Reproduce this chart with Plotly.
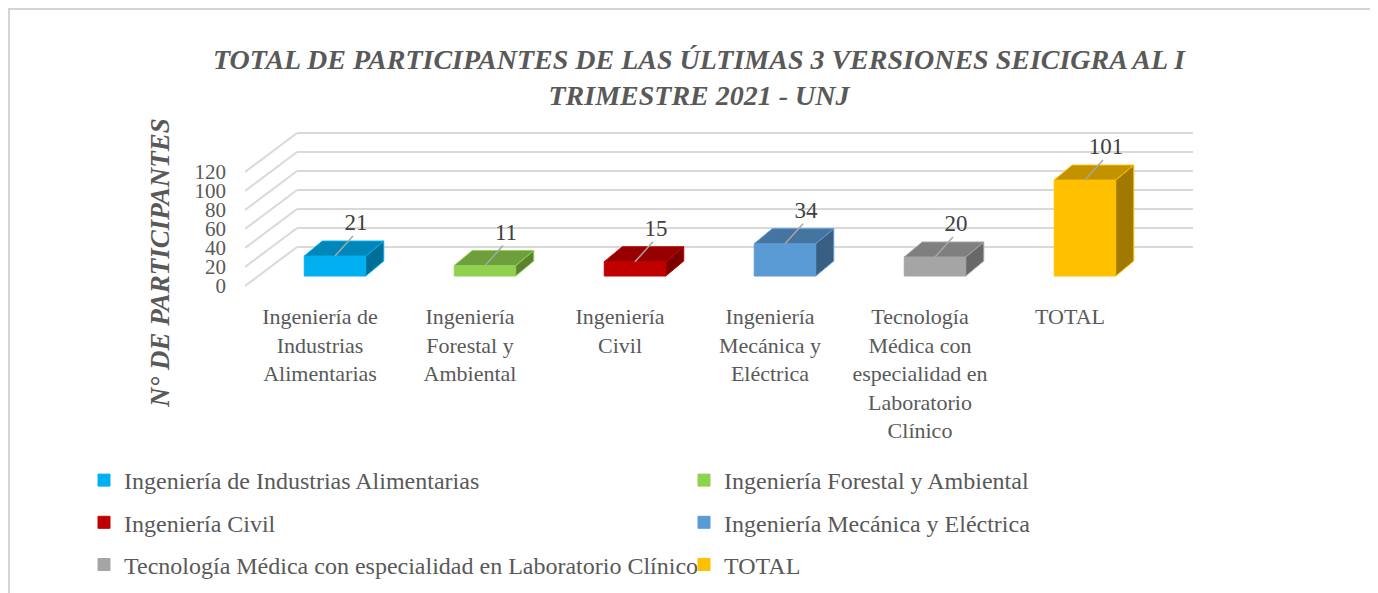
import plotly.graph_objects as go

# ---------------- data ----------------
categories = [
    "Ingeniería de Industrias Alimentarias",
    "Ingeniería Forestal y Ambiental",
    "Ingeniería Civil",
    "Ingeniería Mecánica y Eléctrica",
    "Tecnología Médica con especialidad en Laboratorio Clínico",
    "TOTAL",
]
axis_labels = [
    "Ingeniería de<br>Industrias<br>Alimentarias",
    "Ingeniería<br>Forestal y<br>Ambiental",
    "Ingeniería<br>Civil",
    "Ingeniería<br>Mecánica y<br>Eléctrica",
    "Tecnología<br>Médica con<br>especialidad en<br>Laboratorio<br>Clínico",
    "TOTAL",
]
values = [21, 11, 15, 34, 20, 101]
y_ticks = [0, 20, 40, 60, 80, 100, 120]

front_colors = ["#00B0F0", "#92D050", "#C00000", "#5B9BD5", "#A5A5A5", "#FFC000"]
top_colors = ["#0086B8", "#6F9E3C", "#960000", "#44749F", "#7F7F7F", "#C29200"]
side_colors = ["#006E97", "#5B8231", "#7A0000", "#385F82", "#686868", "#A17900"]

title_text = "TOTAL DE PARTICIPANTES DE LAS ÚLTIMAS 3 VERSIONES SEICIGRA AL I<br>TRIMESTRE 2021 - UNJ"
ytitle_text = "N° DE PARTICIPANTES"

# ---------------- geometry / style constants (screen pixels) ----------------
W, H = 1378, 593
PAGE_OFF = 8                # default page body margin
PL, PR = 245, 1220          # plot area left/right (screen px)
PT, PB = 100, 290           # plot area top/bottom (screen px)
X_RANGE = [-0.5, 6.0]
PX_PER_UNIT = 0.95          # pixels per data unit (vertical)
ZERO_PX = 276               # screen px of value 0 on bar front plane
Y_RANGE = [(ZERO_PX - PB) / PX_PER_UNIT, (ZERO_PX - PT) / PX_PER_UNIT]
BACK_OFF = (ZERO_PX - 247) / PX_PER_UNIT
FRONT_OFF = (ZERO_PX - 286) / PX_PER_UNIT
BACK_X0, BACK_X1, FRONT_X = -0.153, 5.82, -0.5
BAR_SHIFT, BAR_W = 0.1, 0.41
DEPTH_X, DEPTH_Y = 0.12, 15 / PX_PER_UNIT

FONT = "Liberation Serif"
GRID = "#D9D9D9"


def px_to_paper_x(p):
    return (p - PL) / (PR - PL)


def px_to_paper_y(p):
    return (PB - p) / (PB - PT)


fig = go.Figure()

# gridlines: back wall + floor diagonals (below all traces)
for t in y_ticks:
    fig.add_shape(type="line", xref="x", yref="y", layer="below",
                  x0=FRONT_X, y0=t + FRONT_OFF, x1=BACK_X0, y1=t + BACK_OFF,
                  line=dict(color=GRID, width=2))
    fig.add_shape(type="line", xref="x", yref="y", layer="below",
                  x0=BACK_X0, y0=t + BACK_OFF, x1=BACK_X1, y1=t + BACK_OFF,
                  line=dict(color=GRID, width=2))

# bars with pseudo-3D faces
for i, (cat, v) in enumerate(zip(categories, values)):
    c = i + BAR_SHIFT
    w = BAR_W / 2
    leg = "legend" if i % 2 == 0 else "legend2"
    # side face
    fig.add_trace(go.Scatter(
        x=[c + w, c + w, c + w + DEPTH_X, c + w + DEPTH_X, c + w],
        y=[0, v, v + DEPTH_Y, DEPTH_Y, 0],
        fill="toself", fillcolor=side_colors[i], mode="lines",
        line=dict(color=front_colors[i], width=1),
        showlegend=False, hoverinfo="skip", legendgroup=cat))
    # top face
    fig.add_trace(go.Scatter(
        x=[c - w, c + w, c + w + DEPTH_X, c - w + DEPTH_X, c - w],
        y=[v, v, v + DEPTH_Y, v + DEPTH_Y, v],
        fill="toself", fillcolor=top_colors[i], mode="lines",
        line=dict(color=front_colors[i], width=1),
        showlegend=False, hoverinfo="skip", legendgroup=cat))
    # front face (legend entry)
    fig.add_trace(go.Bar(
        x=[c], y=[v], base=0, width=BAR_W, name=cat,
        marker=dict(color=front_colors[i], line=dict(color=front_colors[i], width=1)),
        legend=leg, legendgroup=cat))
    # leader line
    fig.add_trace(go.Scatter(
        x=[c, c + 0.12], y=[v, v + 21], mode="lines",
        line=dict(color="#A6A6A6", width=1.5), showlegend=False, hoverinfo="skip"))
    # data label
    fig.add_trace(go.Scatter(
        x=[c + 0.14], y=[v + 21], mode="text", text=[str(v)],
        textposition="top center",
        textfont=dict(family=FONT, size=23, color="#404040"),
        showlegend=False, hoverinfo="skip"))

# y-axis title
fig.add_annotation(
    text=f"<b><i>{ytitle_text}</i></b>", xref="paper", yref="paper",
    x=px_to_paper_x(160), y=px_to_paper_y(263), textangle=-90,
    showarrow=False, xanchor="center", yanchor="middle",
    font=dict(family=FONT, size=27, color="#595959"))

# chart border
fig.add_shape(type="rect", xref="paper", yref="paper",
              x0=px_to_paper_x(9), x1=px_to_paper_x(1420),
              y0=px_to_paper_y(640), y1=px_to_paper_y(9),
              line=dict(color="#D4D4D4", width=2), fillcolor="rgba(0,0,0,0)", layer="below")

legend_common = dict(
    orientation="v", xanchor="left", yanchor="top",
    font=dict(family=FONT, size=24, color="#595959"),
    tracegroupgap=8, bgcolor="rgba(0,0,0,0)", itemwidth=30,
)

fig.update_layout(
    width=W, height=H,
    margin=dict(l=PL - PAGE_OFF, r=W - (PR - PAGE_OFF), t=PT - PAGE_OFF,
                b=H - (PB - PAGE_OFF), autoexpand=False),
    paper_bgcolor="white", plot_bgcolor="white",
    barmode="overlay",
    title=dict(
        text=title_text, x=(699 - PAGE_OFF) / W, xref="container", xanchor="center",
        y=1 - 61 / H, yref="container", yanchor="top",
        font=dict(family=FONT, size=28, color="#595959", weight="bold", style="italic"),
    ),
    xaxis=dict(range=X_RANGE, tickvals=list(range(len(categories))), ticktext=axis_labels,
               showgrid=False, zeroline=False, showline=False, ticks="",
               tickfont=dict(family=FONT, size=22, color="#595959"),
               ticklabelstandoff=11, fixedrange=True),
    yaxis=dict(range=Y_RANGE, tickvals=[t + FRONT_OFF for t in y_ticks],
               ticktext=[str(t) for t in y_ticks],
               showgrid=False, zeroline=False, showline=False, ticks="",
               tickfont=dict(family=FONT, size=21, color="#595959"),
               ticklabelstandoff=18, fixedrange=True),
    legend=dict(x=px_to_paper_x(84), y=px_to_paper_y(458), **legend_common),
    legend2=dict(x=px_to_paper_x(684), y=px_to_paper_y(458), **legend_common),
)

fig.write_html("out.html", config={"displayModeBar": False})
